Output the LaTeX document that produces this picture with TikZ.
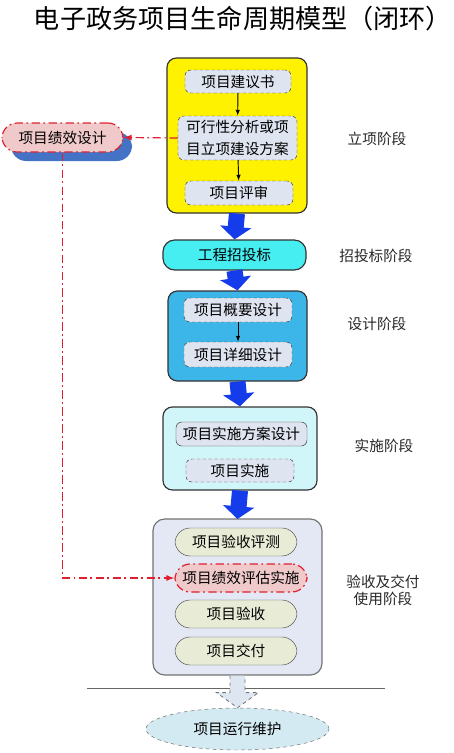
\documentclass[tikz,border=0pt]{standalone}
\usepackage{fontspec}
\usepackage{xcolor}
\usepackage{tikz}
\usetikzlibrary{positioning, arrows.meta, calc, shapes.geometric, shadows}
\newfontfamily\cjk{Noto Sans CJK SC}
\definecolor{stepgray}{RGB}{222,228,240}
\definecolor{bidcyan}{RGB}{70,238,242}
\definecolor{designblue}{RGB}{60,182,232}
\definecolor{implcyan}{RGB}{208,246,250}
\definecolor{accgray}{RGB}{228,232,245}
\definecolor{pillolive}{RGB}{232,236,214}
\definecolor{perfpink}{RGB}{240,202,202}
\definecolor{perfred}{RGB}{225,30,45}
\definecolor{arrowblue}{RGB}{20,60,235}
\definecolor{shadowblue}{RGB}{68,114,196}
\definecolor{maintblue}{RGB}{212,234,242}
\definecolor{hollowfill}{RGB}{222,230,242}
\tikzset{
  phasebox/.style   = {draw=black!80, line width=1pt, rounded corners=8pt},
  stepbox/.style    = {draw=black!75, densely dashed, rounded corners=5pt, fill=stepgray,
                       font=\cjk\fontsize{12.5}{18.5}\selectfont, align=center, inner sep=1pt},
  pillbox/.style    = {draw=black!70, rounded corners=13pt, fill=pillolive, minimum width=3.66cm,
                       minimum height=0.84cm, font=\cjk\fontsize{12.5}{15}\selectfont, inner sep=1pt},
  perfdash/.style   = {dash pattern=on 7pt off 3pt on 1.5pt off 3pt},
  perfbox/.style    = {draw=perfred, line width=1pt, perfdash, rounded corners=13pt, fill=perfpink,
                       minimum height=0.84cm, font=\cjk\fontsize{12.5}{15}\selectfont, inner sep=1pt},
  phaselabel/.style = {font=\cjk\fontsize{12.5}{14.5}\selectfont, align=center, text=black!85},
  bigarrow/.style   = {line width=0.48cm, draw=arrowblue, -{Triangle[length=0.38cm, width=0.92cm]}},
  steparrow/.style  = {-{Latex[length=1.8mm]}, thick},
  perfarrow/.style  = {perfdash, draw=perfred, line width=1pt, -{Latex[length=2.4mm]}},
  hollowarrow/.style= {draw=black!55, dashed, fill=hollowfill, line width=0.7pt}
}

\begin{document}
\begin{tikzpicture}[x=0.03cm, y=-0.03cm]

    \useasboundingbox (0,0) rectangle (454,753);

    % --- Title ----------------------------------------------------------------
    \node[font=\cjk\fontsize{22.3}{25}\selectfont] (title) at (243, 19)
      {电子政务项目生命周期模型（闭环）};

    % --- Phase containers -----------------------------------------------------
    \node[phasebox, fill=yellow, minimum width=4.2cm, minimum height=4.65cm] (setup) at (237, 135.5) {};
    \node[phasebox, fill=bidcyan, rounded corners=10pt, minimum width=4.29cm, minimum height=0.9cm,
          font=\cjk\fontsize{12.5}{15}\selectfont] (bid) at (234.5, 255) {工程招投标};
    \node[phasebox, fill=designblue, minimum width=4.17cm, minimum height=2.7cm] (design) at (237.5, 336) {};
    \node[phasebox, fill=implcyan, minimum width=4.62cm, minimum height=2.49cm] (impl) at (240, 448.5) {};
    \node[phasebox, draw=black!55, fill=accgray, rounded corners=10pt,
          minimum width=5.07cm, minimum height=4.68cm] (acc) at (237.5, 597) {};

    % --- Steps inside the phases ----------------------------------------------
    \node[stepbox, minimum width=3.18cm, minimum height=0.69cm] (proposal) at (238, 81.5) {项目建议书};
    \node[stepbox, minimum width=3.57cm, minimum height=1.32cm] (feas)     at (237.5, 138)
      {可行性分析或项\\目立项建设方案};
    \node[stepbox, minimum width=3.24cm, minimum height=0.72cm] (review)   at (239, 193) {项目评审};

    \node[stepbox, minimum width=3.24cm, minimum height=0.72cm] (outline)  at (238, 310) {项目概要设计};
    \node[stepbox, minimum width=3.24cm, minimum height=0.75cm] (detail)   at (238, 354.5) {项目详细设计};

    \node[stepbox, solid, minimum width=3.93cm, minimum height=0.72cm] (implplan) at (241.5, 434) {项目实施方案设计};
    \node[stepbox, minimum width=3.24cm, minimum height=0.69cm] (implrun)  at (240, 470.5) {项目实施};

    \node[pillbox]                        (test)    at (236, 542) {项目验收评测};
    \node[perfbox, minimum width=3.96cm]  (perf)    at (241, 578) {项目绩效评估实施};
    \node[pillbox]                        (accept)  at (236, 614) {项目验收};
    \node[pillbox]                        (deliver) at (236, 651) {项目交付};

    % --- Maintenance and side node --------------------------------------------
    \node[ellipse, draw=black!60, dashed, fill=maintblue, minimum width=5.49cm, minimum height=1.26cm,
          font=\cjk\fontsize{12.5}{15}\selectfont] (maint) at (237.5, 729) {项目运行维护};

    \node[perfbox, minimum width=3.63cm, minimum height=0.87cm,
          drop shadow={fill=shadowblue, opacity=1, shadow xshift=0.27cm, shadow yshift=-0.27cm}]
      (perfdesign) at (62.5, 137.5) {项目绩效设计};

    % --- Phase labels ---------------------------------------------------------
    \node[phaselabel] (lsetup)  at (377, 139) {立项阶段};
    \node[phaselabel] (lbid)    at (376, 256) {招投标阶段};
    \node[phaselabel] (ldesign) at (377, 324) {设计阶段};
    \node[phaselabel] (limpl)   at (384, 446) {实施阶段};
    \node[phaselabel] (lacc)    at (383, 590) {验收及交付\\使用阶段};

    % --- Arrows ---------------------------------------------------------------
    \draw[steparrow] (proposal) -- (feas);
    \draw[steparrow] (feas)     -- (review);
    \draw[steparrow] (outline)  -- (detail);

    \draw[bigarrow] (setup.south)  -- (bid.north);
    \draw[bigarrow] (bid.south)    -- (design.north);
    \draw[bigarrow] (design.south) -- (impl.north);
    \draw[bigarrow] (impl.south)   -- (acc.south |- 0,519);

    \draw[perfarrow] (feas.west) -- (perfdesign.east);
    \draw[perfarrow] (perfdesign.south) |- (perf.west);

    \draw[black!60] (87, 688) -- (385, 688);
    \filldraw[hollowarrow] ($(acc.south)+(-7.5,0)$) -- ($(acc.south)+(-7.5,17)$)
      -- ($(acc.south)+(-21,17)$) -- (maint.north) -- ($(acc.south)+(21,17)$)
      -- ($(acc.south)+(7.5,17)$) -- ($(acc.south)+(7.5,0)$);

  \end{tikzpicture}
\end{document}
